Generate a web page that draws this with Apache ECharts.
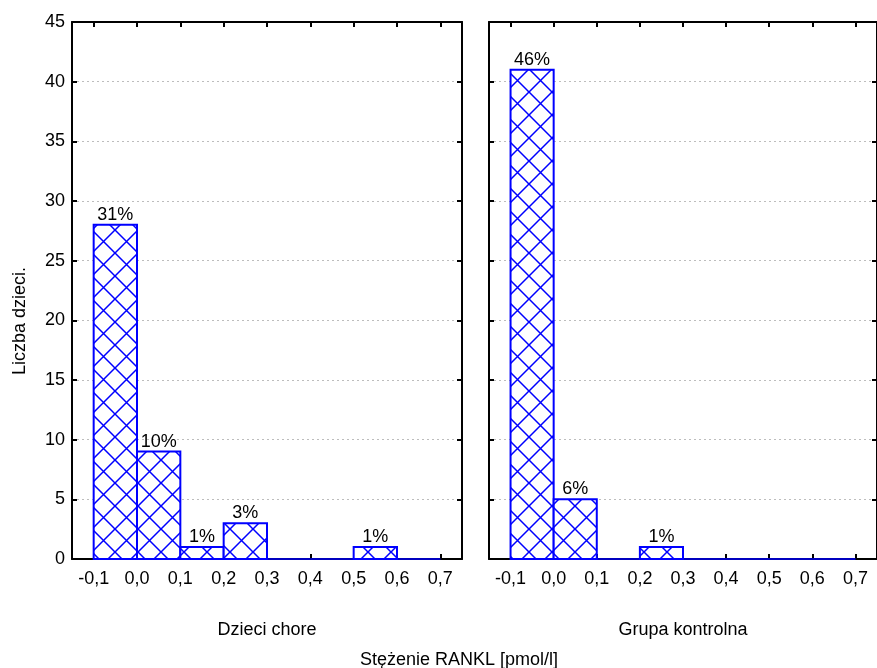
<!DOCTYPE html>
<html>
<head>
<meta charset="utf-8">
<script src="https://cdn.jsdelivr.net/npm/echarts@6/dist/echarts.min.js"></script>
<style>
  html, body { margin: 0; padding: 0; background: #fff; }
  #chart { width: 877px; height: 668px; }
</style>
</head>
<body>
<div id="chart"></div>
<script>
// dane histogramu
const binStarts = [-0.1, 0.0, 0.1, 0.2, 0.3, 0.4, 0.5, 0.6];
const binWidth = 0.1;
const xTicks = [-0.1, 0.0, 0.1, 0.2, 0.3, 0.4, 0.5, 0.6, 0.7];
const choreCounts = [28, 9, 1, 3, 0, 0, 1, 0];
const choreLabels = ['31%', '10%', '1%', '3%', '', '', '1%', ''];
const kontrolnaCounts = [41, 5, 0, 1, 0, 0, 0, 0];
const kontrolnaLabels = ['46%', '6%', '', '1%', '', '', '', ''];
const panelTitles = ['Dzieci chore', 'Grupa kontrolna'];

const FONT = 'Liberation Sans, Arial, sans-serif';
const FS = 18;
const BLUE = '#0000ff';

// kratkowanie słupków
function makeHatch() {
    const s = 23;
    const c = document.createElement('canvas');
    c.width = s; c.height = s;
    const ctx = c.getContext('2d');
    ctx.fillStyle = '#fff';
    ctx.fillRect(0, 0, s, s);
    ctx.strokeStyle = BLUE;
    ctx.lineWidth = 1.5;
    ctx.beginPath();
    ctx.moveTo(-2, -2); ctx.lineTo(s + 2, s + 2);
    ctx.moveTo(s + 2, -2); ctx.lineTo(-2, s + 2);
    ctx.stroke();
    return c;
}
const hatch = makeHatch();

const chart = echarts.init(document.getElementById('chart'));

function buildData(counts, labels) {
    return binStarts.map((b, i) => [b, b + binWidth, counts[i]]);
}

const labels = [choreLabels, kontrolnaLabels];

function renderBar(params, api) {
    const x0 = api.value(0), x1 = api.value(1), v = api.value(2);
    const lab = labels[params.seriesIndex][params.dataIndex];
    const p0 = api.coord([x0, v]);
    const p1 = api.coord([x1, 0]);
    const children = [{
        type: 'rect',
        shape: { x: p0[0], y: p0[1], width: p1[0] - p0[0], height: p1[1] - p0[1] },
        style: {
            fill: v > 0 ? { image: hatch, repeat: 'repeat' } : 'none',
            stroke: BLUE,
            lineWidth: v > 0 ? 2 : 1
        }
    }];
    if (lab) {
        children.push({
            type: 'text',
            x: (p0[0] + p1[0]) / 2,
            y: p0[1] - 1,
            style: {
                text: lab, textAlign: 'center', textVerticalAlign: 'bottom',
                fill: '#000', fontSize: FS, fontFamily: FONT
            }
        });
    }
    return { type: 'group', children: children };
}

const grids = [
    { left: 72, top: 22, width: 390, height: 537 },
    { left: 489, top: 22, width: 389, height: 537 }
];

const xAxes = [], yAxes = [];
grids.forEach((g, gi) => {
    // oś dolna z etykietami
    xAxes.push({
        gridIndex: gi, type: 'value', min: -0.15, max: 0.75, position: 'bottom',
        name: panelTitles[gi], nameLocation: 'middle', nameGap: 62,
        nameTextStyle: { color: '#000', fontSize: FS, fontFamily: FONT },
        axisLine: { show: true, onZero: false, lineStyle: { color: '#000', width: 2 } },
        axisTick: { show: true, inside: true, length: 5, lineStyle: { color: '#000', width: 2 }, customValues: xTicks },
        axisLabel: {
            show: true, margin: 11, color: '#000', fontSize: FS, fontFamily: FONT,
            customValues: xTicks,
            formatter: v => v.toFixed(1).replace('.', ',').replace('-0,0', '0,0')
        },
        splitLine: { show: false }
    });
    // oś górna (tylko ramka i znaczniki)
    xAxes.push({
        gridIndex: gi, type: 'value', min: -0.15, max: 0.75, position: 'top',
        axisLine: { show: true, onZero: false, lineStyle: { color: '#000', width: 2 } },
        axisTick: { show: true, inside: true, length: 5, lineStyle: { color: '#000', width: 2 }, customValues: xTicks },
        axisLabel: { show: false },
        splitLine: { show: false }
    });
    yAxes.push({
        gridIndex: gi, type: 'value', min: 0, max: 45, interval: 5, position: 'left',
        axisLine: { show: true, onZero: false, lineStyle: { color: '#000', width: 2 } },
        axisTick: { show: true, inside: true, length: 5, lineStyle: { color: '#000', width: 2 } },
        axisLabel: { show: gi === 0, margin: 7, color: '#000', fontSize: FS, fontFamily: FONT },
        splitLine: { show: true, lineStyle: { color: '#bdbdbd', width: 1, type: [2, 3] } }
    });
    yAxes.push({
        gridIndex: gi, type: 'value', min: 0, max: 45, interval: 5, position: 'right',
        axisLine: { show: true, onZero: false, lineStyle: { color: '#000', width: 2 } },
        axisTick: { show: true, inside: true, length: 5, lineStyle: { color: '#000', width: 2 } },
        axisLabel: { show: false },
        splitLine: { show: false }
    });
});

const option = {
    backgroundColor: '#fff',
    animation: false,
    grid: grids,
    xAxis: xAxes,
    yAxis: yAxes,
    graphic: [
        {
            type: 'text', x: 20, y: 321, rotation: Math.PI / 2,
            style: { text: 'Liczba dzieci.', textAlign: 'center', textVerticalAlign: 'middle', fill: '#000', fontSize: FS, fontFamily: FONT }
        },
        {
            type: 'text', x: 459, y: 660,
            style: { text: 'Stężenie RANKL [pmol/l]', textAlign: 'center', textVerticalAlign: 'middle', fill: '#000', fontSize: FS, fontFamily: FONT }
        }
    ],
    series: [
        {
            type: 'custom', xAxisIndex: 0, yAxisIndex: 0,
            renderItem: renderBar, data: buildData(choreCounts, choreLabels), z: 5
        },
        {
            type: 'custom', xAxisIndex: 2, yAxisIndex: 2,
            renderItem: renderBar, data: buildData(kontrolnaCounts, kontrolnaLabels), z: 5
        }
    ]
};
chart.setOption(option);
</script>
</body>
</html>
